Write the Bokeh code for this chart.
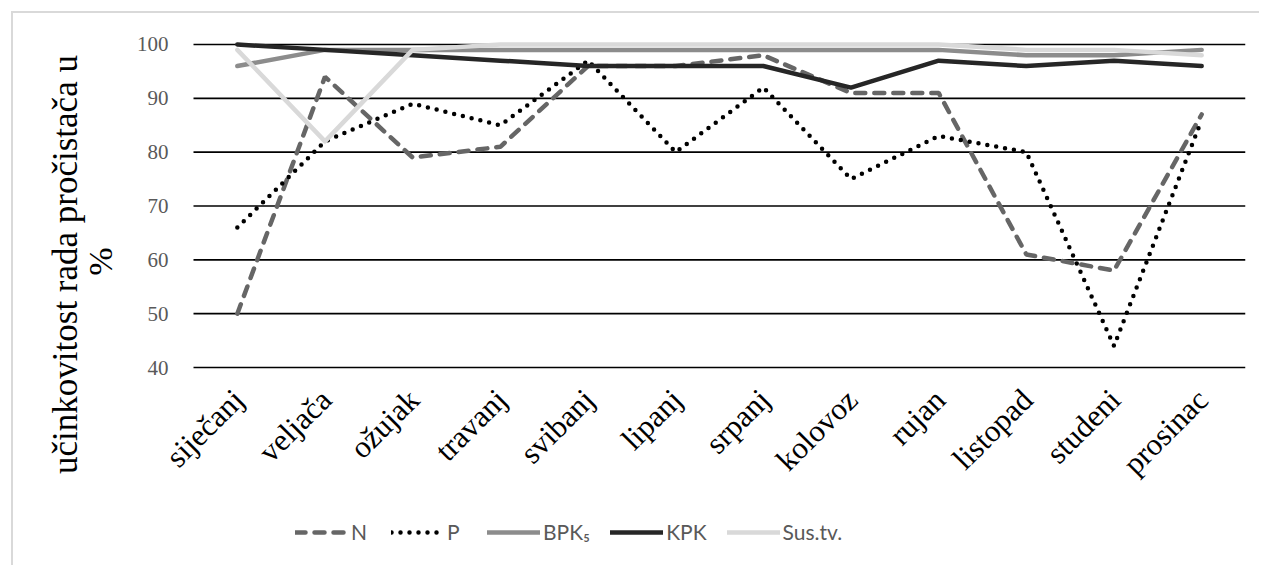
import math
from bokeh.plotting import figure
from bokeh.models import (Range1d, Legend, LegendItem, Label, LabelSet, ColumnDataSource)
from bokeh.embed import file_html
from bokeh.resources import INLINE

months = ["siječanj", "veljača", "ožujak", "travanj", "svibanj", "lipanj",
          "srpanj", "kolovoz", "rujan", "listopad", "studeni", "prosinac"]
N = [50, 94, 79, 81, 96, 96, 98, 91, 91, 61, 58, 87]
P = [66, 82, 89, 85, 97, 80, 92, 75, 83, 80, 44, 86]
BPK5 = [96, 99, 99, 99, 99, 99, 99, 99, 99, 98, 98, 99]
KPK = [100, 99, 98, 97, 96, 96, 96, 92, 97, 96, 97, 96]
SUS = [99, 82, 99, 100, 100, 100, 100, 100, 100, 99, 99, 98]
y_ticks = [40, 50, 60, 70, 80, 90, 100]
y_tick_labels = ["40", "50", "60", "70", "80", "90", "100"]
y_min = 40
y_label = "učinkovitost rada pročistača u"
y_label2 = "%"

# layout (pixels)
plot_left_px, plot_right_px = 193, 1245          # where the category band sits
frame_left_px = 33                               # frame extends left so labels are not clipped
cat_px = (plot_right_px - plot_left_px) / len(months)
idx = list(range(len(months)))
x_lo = -0.5 - (plot_left_px - frame_left_px) / cat_px
x_hi = len(months) - 0.5

p = figure(x_range=Range1d(x_lo, x_hi), y_range=Range1d(2.85, 103.90),
           width=1248, height=554, output_backend="svg", toolbar_location=None,
           min_border_left=20, min_border_right=16, min_border_top=10, min_border_bottom=0,
           outline_line_color=None, background_fill_color="white", border_fill_color="white",
           margin=(11, 0, 0, 11),
           styles={"border-left": "2px solid #d9d9d9", "border-top": "2px solid #d9d9d9"})

p.xaxis.visible = False
p.yaxis.visible = False
p.xgrid.grid_line_color = None
p.ygrid.grid_line_color = None

# horizontal gridlines over the category band
p.segment(x0=[-0.5] * len(y_ticks), x1=[x_hi] * len(y_ticks), y0=y_ticks, y1=y_ticks,
          line_color="black", line_width=1.6)

# y tick labels
ysrc = ColumnDataSource(dict(x=[-0.5] * len(y_ticks), y=y_ticks, t=y_tick_labels))
p.add_layout(LabelSet(x="x", y="y", text="t", source=ysrc, x_offset=-25, y_offset=0,
                      text_align="right", text_baseline="middle",
                      text_font="Lato", text_font_size="21px", text_color="#595959"))

# month labels under the 40 line
lab_src = ColumnDataSource(dict(x=idx, y=[y_min] * len(months), t=months))
p.add_layout(LabelSet(x="x", y="y", text="t", source=lab_src, angle=math.pi / 4,
                      text_align="right", text_baseline="middle", x_offset=1, y_offset=-27,
                      text_font="Liberation Serif", text_font_size="31px", text_color="black"))

rN = p.line(idx, N, line_color="#666666", line_width=4.5, line_dash="10 9", line_cap="round")
rP = p.line(idx, P, line_color="black", line_width=4.5, line_dash="0 9", line_cap="round")
rB = p.line(idx, BPK5, line_color="#8c8c8c", line_width=4.5, line_cap="round", line_join="round")
rK = p.line(idx, KPK, line_color="#262626", line_width=4.5, line_cap="round", line_join="round")
rS = p.line(idx, SUS, line_color="#d9d9d9", line_width=4.5, line_cap="round", line_join="round")

# y axis title (two lines), anchored at the bottom-left corner of the category band
p.add_layout(Label(x=-0.5, y=y_min, x_offset=-128, y_offset=103, text=y_label, angle=math.pi / 2,
                   text_align="center", text_baseline="middle", text_font="Liberation Serif",
                   text_font_size="35px", text_color="black"))
p.add_layout(Label(x=-0.5, y=y_min, x_offset=-93, y_offset=106, text=y_label2, angle=math.pi / 2,
                   text_align="center", text_baseline="middle", text_font="Liberation Serif",
                   text_font_size="34px", text_color="black"))

legend = Legend(items=[LegendItem(label="N", renderers=[rN]),
                       LegendItem(label="P", renderers=[rP]),
                       LegendItem(label="BPK₅", renderers=[rB]),
                       LegendItem(label="KPK", renderers=[rK]),
                       LegendItem(label="Sus.tv.", renderers=[rS])],
                orientation="horizontal", location=(262, 23),
                label_text_font="Lato", label_text_font_size="21px", label_text_color="#595959",
                glyph_width=53, glyph_height=20, spacing=20, label_standoff=3,
                border_line_color=None, background_fill_alpha=0, margin=0, padding=0)
p.add_layout(legend, "center")

open("out.html", "w").write(file_html(p, INLINE))
